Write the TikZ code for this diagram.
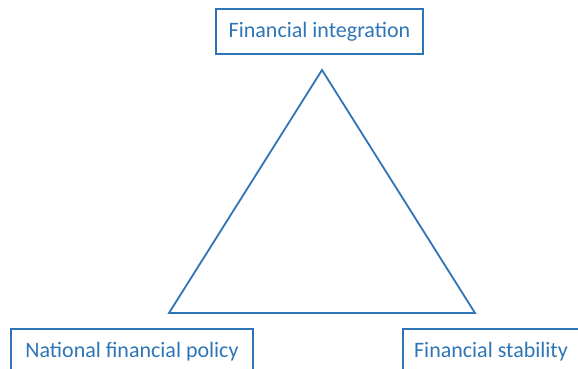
\documentclass[tikz,border=0pt]{standalone}
\usepackage{fontspec}
\setmainfont{Carlito}
\definecolor{offblue}{HTML}{2E75B6}
\tikzset{
  goalbox/.style={draw=offblue, line width=1.8pt, text=offblue, font=\fontsize{22}{24}\selectfont,
    minimum height=45pt, inner xsep=10pt}
}
\begin{document}
\begin{tikzpicture}[x=1pt, y=1pt]
        % page size of the reference
        \useasboundingbox (0,0) rectangle (578,369);
        \clip (0,0) rectangle (578,369);
        % the three goals
        \node[goalbox, minimum width=207pt] (integ) at (319.5,337.5) {Financial integration};
        \node[goalbox, minimum width=242pt] (policy) at (132,17.5) {National financial policy};
        \node[goalbox, minimum width=176pt] (stab) at (491,17.5) {Financial stability};
        % triangle corners
        \coordinate (top) at (322,299);
        \coordinate (left) at (169,56);
        \coordinate (right) at (475,56);
        \draw[offblue, line width=1.8pt, line join=miter] (top) -- (left) -- (right) -- cycle;
\end{tikzpicture}
\end{document}
